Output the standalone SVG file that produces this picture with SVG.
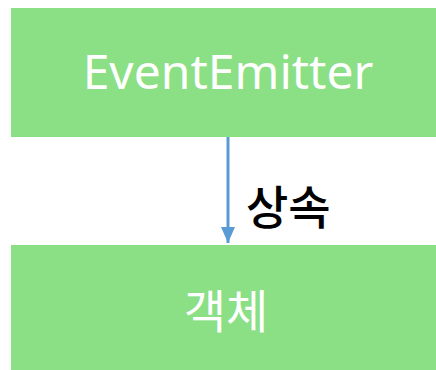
<svg xmlns="http://www.w3.org/2000/svg" width="436" height="370" viewBox="0 0 436 370">
<defs>
<style>
.box{fill:#8BDF85}
.lbl{fill:#fff;font-family:"Noto Sans","Noto Sans CJK KR",sans-serif;text-anchor:middle}
.edge{stroke:#5B9BD5;stroke-width:3;fill:none}
.elbl{fill:#000;font-family:"Noto Sans CJK KR","Noto Sans",sans-serif;font-size:46px;font-weight:500}
</style>
<marker id="ah" markerUnits="userSpaceOnUse" markerWidth="16" markerHeight="14" refX="16" refY="7" orient="auto">
<path d="M0,0 L16,7 L0,14 Z" fill="#5B9BD5"/>
</marker>
</defs>
<rect width="436" height="370" fill="#fff"/>
<g id="node-eventemitter">
<rect class="box" x="11" y="8" width="425" height="129"/>
<text class="lbl" x="228" y="89" font-size="48">EventEmitter</text>
</g>
<g id="node-object">
<rect class="box" x="11" y="245" width="425" height="125"/>
<text class="lbl" x="226" y="328" font-size="46" font-family="Noto Sans CJK KR, sans-serif">객체</text>
</g>
<g id="connectors">
<line class="edge" x1="228" y1="137" x2="228" y2="243" marker-end="url(#ah)"/>
<text class="elbl" x="246" y="224">상속</text>
</g>
</svg>
